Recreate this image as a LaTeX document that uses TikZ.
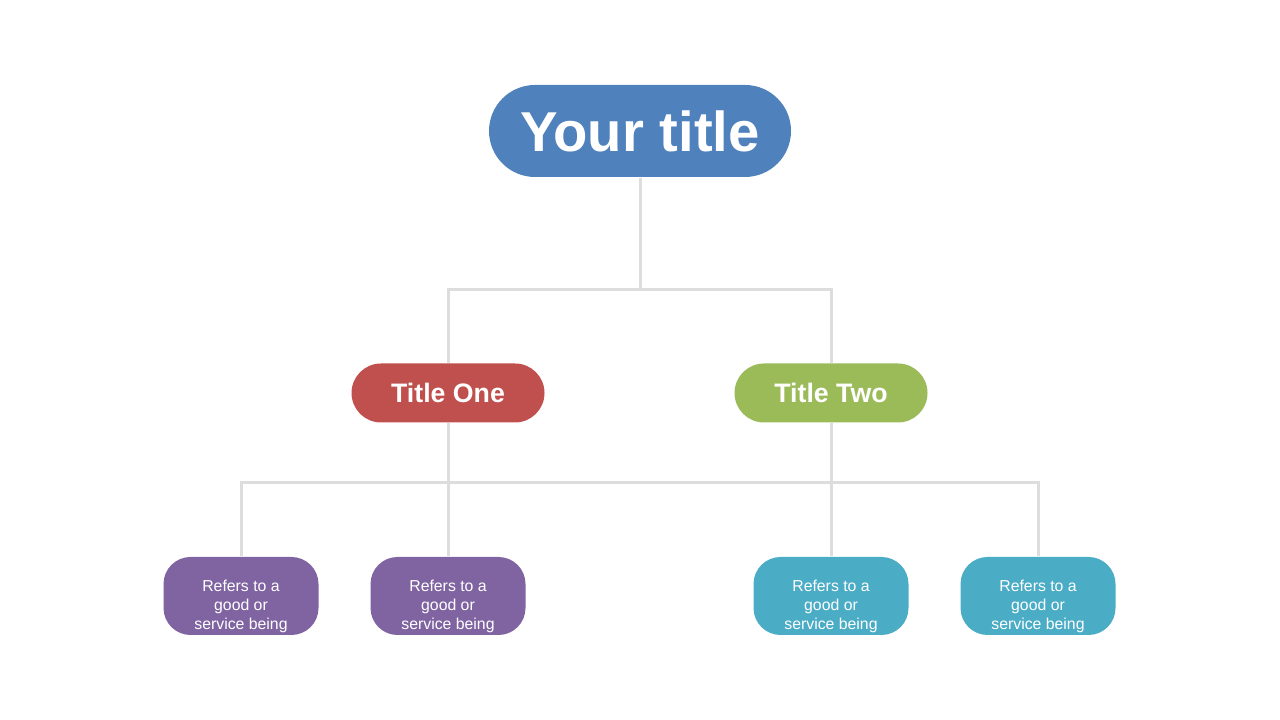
\documentclass[tikz,border=0pt]{standalone}
\usepackage{fontspec}
\setmainfont{Liberation Sans}
\usetikzlibrary{backgrounds}
\definecolor{topblue}{HTML}{4F81BD}
\definecolor{onered}{HTML}{C0504D}
\definecolor{twogreen}{HTML}{9BBB59}
\definecolor{leafpurple}{HTML}{8064A2}
\definecolor{leafteal}{HTML}{4BACC6}
\definecolor{linkgray}{HTML}{DDDDDD}
\tikzset{
  link/.style={draw=linkgray, line width=0.03cm},
  top/.style={fill=topblue, text=white, font=\bfseries\fontsize{16}{18}\selectfont,
    minimum width=3.02cm, minimum height=0.92cm, rounded corners=0.46cm},
  mid/.style={text=white, font=\bfseries\fontsize{7.6}{9}\selectfont,
    minimum width=1.93cm, minimum height=0.59cm, rounded corners=0.295cm},
  leaf/.style={minimum width=1.55cm, minimum height=0.78cm, rounded corners=0.27cm,
    path picture={\node[text=white, align=center, font=\fontsize{4.5}{5.4}\selectfont]
      at ([yshift=-0.18cm]path picture bounding box.center)
      {Refers to a\\good or\\service being\\offered};}},
}
\newcommand{\leafbox}[3]{\node[leaf, fill=#3, name=#1] at (#2,1.24) {};}
\begin{document}
\begin{tikzpicture}
  \useasboundingbox (0,0) rectangle (12.8,7.2);
  \node[top, name=root] at (6.40,5.89) {Your title};
  \node[mid, fill=onered, name=one] at (4.48,3.27) {Title One};
  \node[mid, fill=twogreen, name=two] at (8.31,3.27) {Title Two};
  \leafbox{l1}{2.41}{leafpurple}
  \leafbox{l2}{4.48}{leafpurple}
  \leafbox{l3}{8.31}{leafteal}
  \leafbox{l4}{10.38}{leafteal}
  \coordinate (split) at (6.40,4.30);
  \coordinate (bar) at (6.40,2.37);
  % connectors behind the boxes
  \begin{scope}[on background layer]
    \draw[link] (root.south) -- (split);
    \draw[link] (one.north) |- (split) -| (two.north);
    \draw[link] (one.south) -- (l2.north);
    \draw[link] (two.south) -- (l3.north);
    \draw[link] (l1.north) |- (bar) -| (l4.north);
  \end{scope}
\end{tikzpicture}
\end{document}
